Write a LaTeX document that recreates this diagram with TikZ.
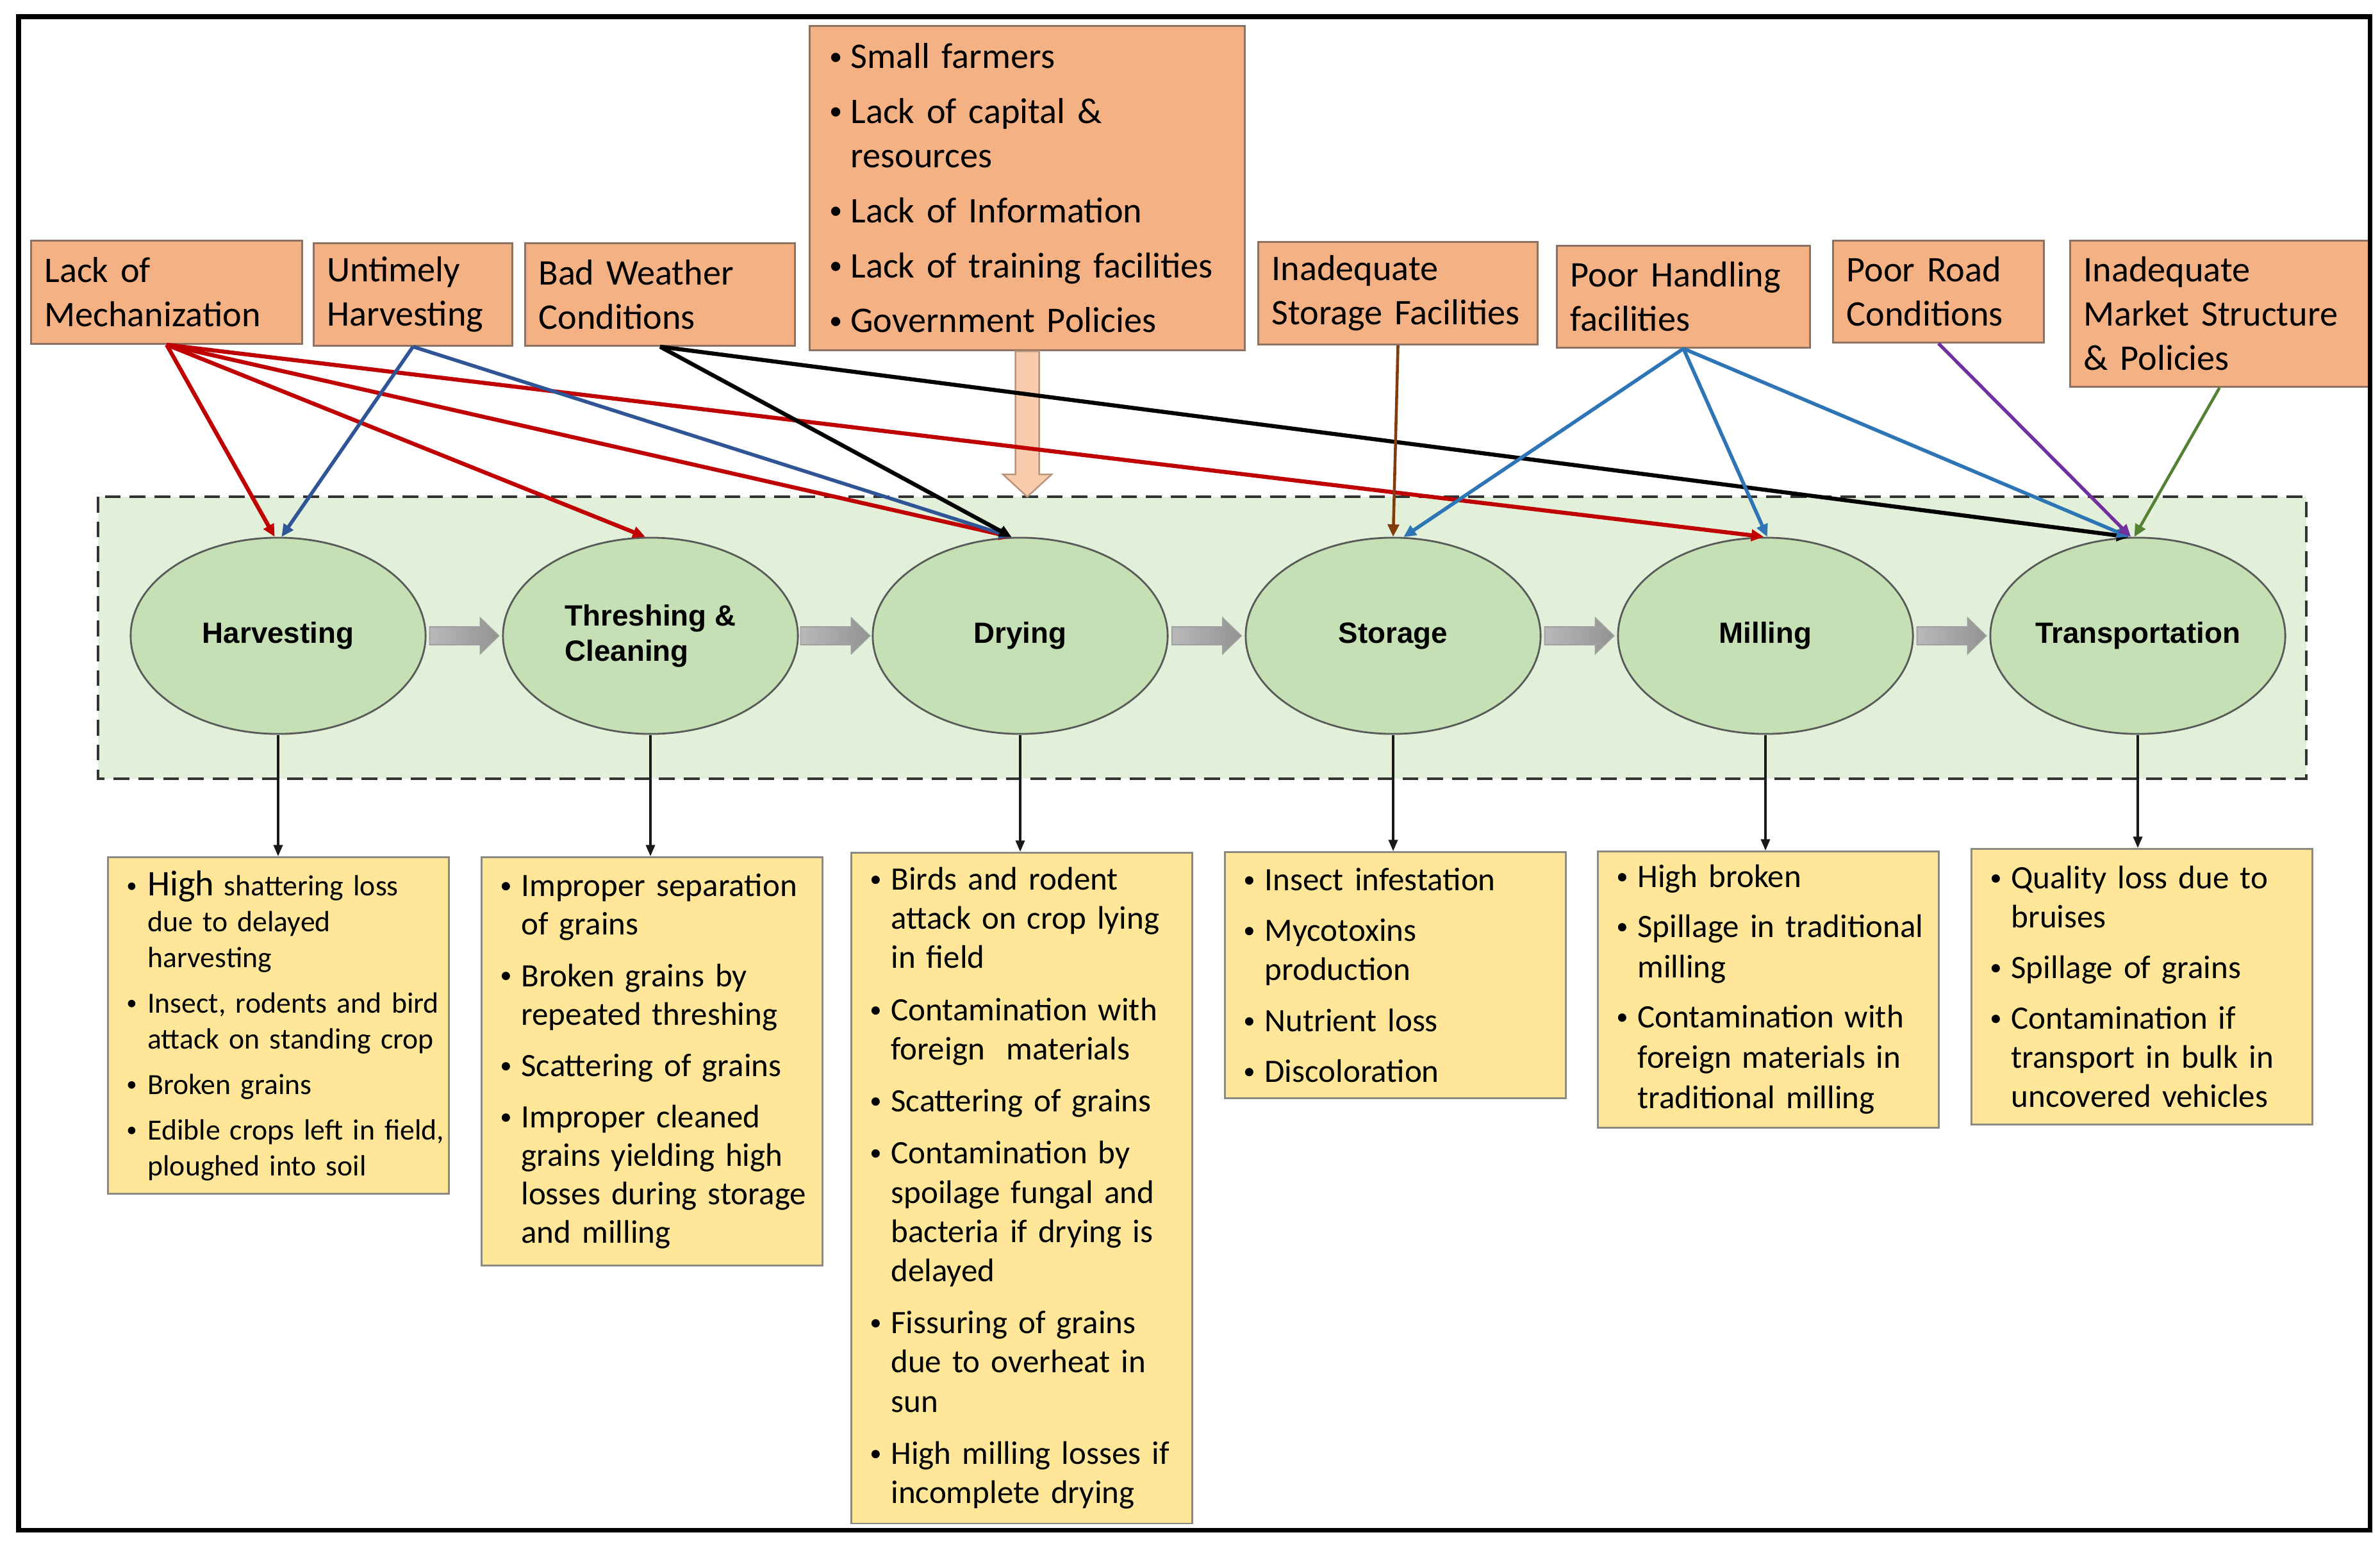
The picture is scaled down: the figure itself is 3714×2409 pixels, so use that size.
\documentclass[tikz,border=0pt]{standalone}
\usepackage{fontspec}
\setmainfont{Carlito}
\newfontfamily\ellfont{Liberation Sans}
\usetikzlibrary{arrows.meta,shapes.geometric,calc}
\definecolor{topfill}{HTML}{F4B183}
\definecolor{topdraw}{HTML}{8C7262}
\definecolor{botfill}{HTML}{FFE699}
\definecolor{botdraw}{HTML}{8A8A80}
\definecolor{ellfill}{HTML}{C5E0B4}
\definecolor{bandfill}{HTML}{E2F0D9}
\definecolor{cred}{HTML}{C00000}
\definecolor{cdblue}{HTML}{2F5597}
\definecolor{cbrown}{HTML}{843C0C}
\definecolor{cblue}{HTML}{2E75B6}
\definecolor{cpurple}{HTML}{7030A0}
\definecolor{cgreen}{HTML}{548235}
\definecolor{peach}{HTML}{F8CBAD}
\definecolor{peachdraw}{HTML}{B8947E}
\newlength\hin
\newcommand\bi[1]{\hangindent=\hin\hangafter=1\noindent\hbox to\hin{\hspace{0.04cm}\raisebox{0.1em}{\scalebox{0.72}{\textbullet}}\hfil}#1\par}
\begin{document}
\begin{tikzpicture}[x=0.01cm, y=-0.01cm,
  cause/.style={draw=topdraw, fill=topfill, line width=0.8pt, align=left,
    inner xsep=0.21cm, inner ysep=0pt, anchor=north west,
    font=\fontsize{16}{19.6}\selectfont,
    execute at begin node={\hsize=\dimexpr\hsize+1cm\relax}},
  bot/.style={draw=botdraw, fill=botfill, line width=0.8pt, align=left,
    inner xsep=0.25cm, inner ysep=0pt, anchor=north west,
    text width=4.82cm, minimum width=5.32cm,
    font=\fontsize{14.5}{17.4}\selectfont,
    execute at begin node={\hsize=\dimexpr\hsize+1cm\relax\setlength\hin{0.37cm}}},
  psep/.style={execute at begin node={\setlength{\parskip}{#1}}},
  stage/.style={ellipse, draw=black!65, fill=ellfill, line width=0.8pt,
    minimum width=4.6cm, minimum height=3.06cm, inner sep=0pt, align=left,
    font=\ellfont\bfseries\fontsize{13}{15.6}\selectfont},
  ctip/.style={-{Triangle[length=5.5pt,width=5pt]}},
  redc/.style={ctip, draw=cred, line width=1.8pt},
  dbluec/.style={ctip, draw=cdblue, line width=1.6pt},
  blackc/.style={ctip, draw=black, line width=1.8pt},
  brownc/.style={ctip, draw=cbrown, line width=1.3pt},
  bluec/.style={ctip, draw=cblue, line width=1.6pt},
  purplec/.style={ctip, draw=cpurple, line width=1.5pt},
  greenc/.style={ctip, draw=cgreen, line width=1.3pt},
  downc/.style={-{Triangle[length=5pt,width=4pt]}, draw=black!90, line width=0.9pt},
  garrow/.pic={\path[left color=gray!55, right color=gray!85, draw=gray!75, line width=0.5pt]
    (-54,-14) -- (25,-14) -- (25,-28) -- (54,0) -- (25,28) -- (25,14) -- (-54,14) -- cycle;}
]
\useasboundingbox (0,0) rectangle (3714,2409);

% band
\draw[fill=bandfill, draw=black!80, line width=1.2pt, dash pattern=on 7pt off 4pt] (153,775) rectangle (3599,1215);

% cause boxes
\node[cause, minimum width=4.23cm, minimum height=1.61cm, text width=3.81cm] (mech) at (47,374) {Lack of\\Mechanization};
\node[cause, minimum width=3.10cm, minimum height=1.60cm, text width=2.68cm] (unt) at (488,378) {Untimely\\Harvesting};
\node[cause, minimum width=4.21cm, minimum height=1.60cm, text width=3.79cm] (wea) at (818,378) {Bad Weather\\Conditions};
\node[cause, psep=4.8pt, minimum width=6.79cm, minimum height=5.06cm, text width=6.25cm, inner xsep=0.27cm] (big) at (1262,39)
  {\setlength\hin{0.37cm}\bi{Small farmers}\bi{Lack of capital \&\newline resources}\bi{Lack of Information}\bi{Lack of training facilities}\bi{Government Policies}};
\node[cause, minimum width=4.36cm, minimum height=1.60cm, text width=3.94cm] (stf) at (1962,376) {Inadequate\\Storage Facilities};
\node[cause, minimum width=3.95cm, minimum height=1.59cm, text width=3.53cm] (han) at (2428,382) {Poor Handling\\facilities};
\node[cause, minimum width=3.29cm, minimum height=1.59cm, text width=2.87cm] (road) at (2859,374) {Poor Road\\Conditions};
\node[cause, minimum width=4.66cm, minimum height=2.28cm, text width=4.24cm] (mkt) at (3229,374) {Inadequate\\Market Structure\\\& Policies};

% stages
\node[stage] (h) at (434,992) {Harvesting};
\node[stage] (t) at (1015,992) {Threshing \&\\Cleaning};
\node[stage] (d) at (1592,992) {Drying};
\node[stage] (s) at (2174,992) {Storage};
\node[stage] (m) at (2755,992) {Milling};
\node[stage] (tr) at (3336,992) {Transportation};

% gray block arrows
\coordinate (g1) at ($(h.east)!0.5!(t.west)$);
\coordinate (g2) at ($(t.east)!0.5!(d.west)$);
\coordinate (g3) at ($(d.east)!0.5!(s.west)$);
\coordinate (g4) at ($(s.east)!0.5!(m.west)$);
\coordinate (g5) at ($(m.east)!0.5!(tr.west)$);
\foreach \g in {g1,g2,g3,g4,g5} {\pic at (\g) {garrow};}

% peach arrow
\draw[fill=peach, draw=peachdraw, line width=0.7pt, shift={(big.south)}]
  (-18.5,0) -- (-18.5,192) -- (-38,192) -- (0,227) -- (38,192) -- (18.5,192) -- (18.5,0) -- cycle;

% connectors
\draw[redc] (mech.south) -- (h.92);
\draw[redc] (mech.south) -- (t.93);
\draw[redc] (mech.south) -- (d.95);
\draw[redc] (mech.south) -- (m.91);
\draw[dbluec] (unt.south) -- (h.88);
\draw[dbluec] (unt.south) -- (d.95);
\draw[blackc] (wea.south) -- (d.95);
\draw[blackc] (wea.south) -- (tr.95);
\draw[brownc] (stf.south) -- (s.north);
\draw[bluec] (han.south) -- (s.84);
\draw[bluec] (han.south) -- (m.89);
\draw[bluec] (han.south) -- (tr.95);
\draw[purplec] (road.south) -- (tr.94);
\draw[greenc] (mkt.south) -- (tr.92);

% bottom boxes
\node[bot, psep=4.3pt, minimum height=5.25cm, font=\fontsize{13}{15.9}\selectfont] (hb) at (167,1336)
  {\bi{{\fontsize{16}{15.9}\selectfont High} shattering loss\newline due to delayed\newline harvesting}\bi{Insect, rodents and bird\newline attack on standing crop}\bi{Broken grains}\bi{Edible crops left in field,\newline ploughed into soil}};
\node[bot, psep=5.7pt, minimum height=6.37cm, font=\fontsize{14.5}{17.1}\selectfont] (tb) at (750,1336)
  {\bi{Improper separation\newline of grains}\bi{Broken grains by\newline repeated threshing}\bi{Scattering of grains}\bi{Improper cleaned\newline grains yielding high\newline losses during storage\newline and milling}};
\node[bot, psep=5.7pt, minimum height=10.46cm] (db) at (1327,1329)
  {\bi{Birds and rodent\newline attack on crop lying\newline in field}\bi{Contamination with\newline foreign\ \ materials}\bi{Scattering of grains}\bi{Contamination by\newline spoilage fungal and\newline bacteria if drying is\newline delayed}\bi{Fissuring of grains\newline due to overheat in\newline sun}\bi{High milling losses if\newline incomplete drying}};
\node[bot, psep=5.2pt, minimum height=3.84cm] (sb) at (1910,1328)
  {\bi{Insect infestation}\bi{Mycotoxins\newline production}\bi{Nutrient loss}\bi{Discoloration}};
\node[bot, psep=4.3pt, minimum height=4.31cm, font=\fontsize{14.5}{17.9}\selectfont] (mb) at (2492,1327)
  {\bi{High broken}\bi{Spillage in traditional\newline milling}\bi{Contamination with\newline foreign materials in\newline traditional milling}};
\node[bot, psep=5.1pt, minimum height=4.30cm] (trb) at (3075,1323)
  {\bi{Quality loss due to\newline bruises}\bi{Spillage of grains}\bi{Contamination if\newline transport in bulk in\newline uncovered vehicles}};

% down connectors
\draw[downc] (h.south) -- (h.south |- hb.north);
\draw[downc] (t.south) -- (t.south |- tb.north);
\draw[downc] (d.south) -- (d.south |- db.north);
\draw[downc] (s.south) -- (s.south |- sb.north);
\draw[downc] (m.south) -- (m.south |- mb.north);
\draw[downc] (tr.south) -- (tr.south |- trb.north);

% frame
\draw[line width=2pt] (29,26) rectangle (3698,2387);
\end{tikzpicture}
\end{document}
